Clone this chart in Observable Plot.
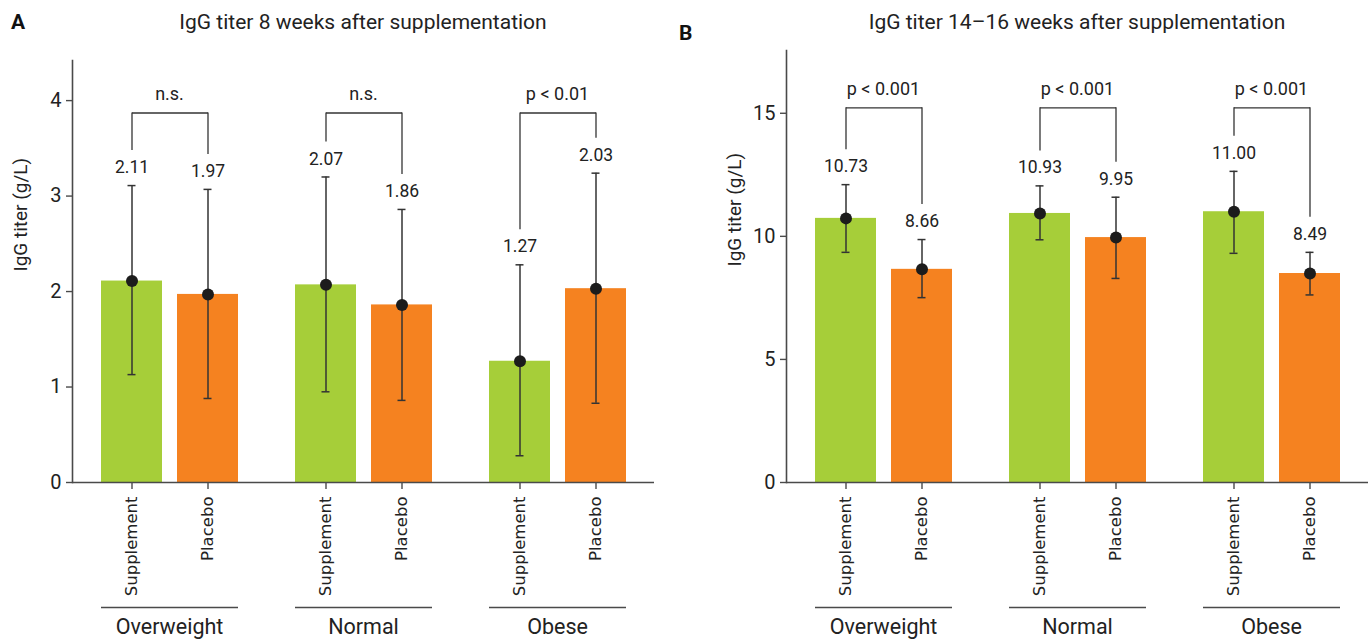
<!DOCTYPE html>
<html>
<head>
<meta charset="utf-8">
<script src="https://cdn.jsdelivr.net/npm/d3@7"></script>
<script src="https://cdn.jsdelivr.net/npm/@observablehq/plot@0.6"></script>
<style>
  html, body { margin: 0; padding: 0; background: #fff; }
  #wrap { position: relative; width: 1368px; height: 639px; overflow: hidden; font-family: Roboto, sans-serif; color: #222; }
  .panel { position: absolute; top: 40px; }
  .title { position: absolute; top: 9px; text-align: center; font-size: 21px; line-height: 26px; color: #222; }
  .letter { position: absolute; font-weight: 700; font-size: 21px; line-height: 24px; color: #111; }
</style>
</head>
<body>
<div id="wrap">
  <div class="letter" style="left:11px; top:10px;">A</div>
  <div class="letter" style="left:679px; top:21px;">B</div>
  <div class="title" style="left:72px; width:582px;">IgG titer 8 weeks after supplementation</div>
  <div class="title" style="left:786px; width:582px;">IgG titer 14–16 weeks after supplementation</div>
  <div id="panelA" class="panel" style="left:0px;"></div>
  <div id="panelB" class="panel" style="left:684px;"></div>
</div>
<script>
// ---- shared categories ----
const groups = ["Overweight", "Normal", "Obese"];
const treatments = ["Supplement", "Placebo"];
const barColors = ["#a6ce39", "#f58220"];
const yLabel = "IgG titer (g/L)";

// ---- Panel A: 8 weeks ----
const meanA = [2.11, 1.97, 2.07, 1.86, 1.27, 2.03];
const lowA  = [1.13, 0.88, 0.95, 0.86, 0.28, 0.83];
const highA = [3.11, 3.07, 3.20, 2.86, 2.28, 3.24];
const sigA = ["n.s.", "n.s.", "p < 0.01"];
const bracketA = 3.87;
const ticksA = [0, 1, 2, 3, 4];
const yMaxA = 4.42;

// ---- Panel B: 14–16 weeks ----
const meanB = [10.73, 8.66, 10.93, 9.95, 11.00, 8.49];
const lowB  = [9.35, 7.51, 9.86, 8.29, 9.31, 7.62];
const highB = [12.10, 9.87, 12.05, 11.59, 12.64, 9.35];
const sigB = ["p < 0.001", "p < 0.001", "p < 0.001"];
const bracketB = 15.22;
const ticksB = [0, 5, 10, 15];
const yMaxB = 17.55;

const axisColor = "#4a4a4a";
const inkColor = "#333";

function makePanel({mean, low, high, sig, bracket, ticks, yMax, marginTop, marginLeft, marginRight}) {
  const rows = groups.flatMap((g, gi) => treatments.map((t, ti) => ({
    group: g, treatment: t,
    mean: mean[gi * 2 + ti], low: low[gi * 2 + ti], high: high[gi * 2 + ti],
    level: bracket
  })));
  const groupRows = groups.map((g, i) => ({group: g, sig: sig[i], level: bracket}));

  return Plot.plot({
    width: 684,
    height: 599,
    marginTop,
    marginBottom: 157,
    marginLeft,
    marginRight,
    fx: {domain: groups, padding: 0},
    x: {domain: treatments, paddingInner: 0.2, paddingOuter: 0.37},
    y: {domain: [0, yMax]},
    color: {domain: treatments, range: barColors},
    style: {fontFamily: "Roboto, sans-serif", fontSize: "18px", color: "#222", background: "#fff", overflow: "visible"},
    marks: [
      Plot.barY(rows, {fx: "group", x: "treatment", y: "mean", fill: "treatment"}),
      Plot.ruleY([0], {stroke: axisColor, strokeWidth: 1.6}),
      Plot.frame({anchor: "left", facetAnchor: "left", stroke: axisColor, strokeWidth: 1.6}),
      // error bars
      Plot.ruleX(rows, {fx: "group", x: "treatment", y1: "low", y2: "high", stroke: inkColor, strokeWidth: 1.5}),
      Plot.tickY(rows, {fx: "group", x: "treatment", y: "low", insetLeft: 26.5, insetRight: 26.5, stroke: inkColor, strokeWidth: 1.5}),
      Plot.tickY(rows, {fx: "group", x: "treatment", y: "high", insetLeft: 26.5, insetRight: 26.5, stroke: inkColor, strokeWidth: 1.5}),
      Plot.dot(rows, {fx: "group", x: "treatment", y: "mean", r: 6, fill: "#1c1c1c"}),
      // value labels
      Plot.text(rows, {fx: "group", x: "treatment", y: "high", text: d => d.mean.toFixed(2), dy: -18, fontSize: 17.5, fill: "#222"}),
      // significance brackets
      Plot.ruleX(rows, {fx: "group", x: "treatment", y1: "level", y2: "high", insetBottom: 35, stroke: inkColor, strokeWidth: 1.3}),
      Plot.link(groupRows, {fx: "group", x1: () => treatments[0], x2: () => treatments[1], y1: "level", y2: "level", stroke: inkColor, strokeWidth: 1.3}),
      Plot.text(groupRows, {fx: "group", y: "level", text: "sig", dy: -19, fontSize: 18, fill: "#222"}),
      // group underline
      Plot.ruleY(groupRows, {fx: "group", y: () => 0, x1: () => treatments[0], x2: () => treatments[1], dy: 125, stroke: axisColor, strokeWidth: 1.6}),
      // axes
      Plot.axisY({ticks, tickFormat: d => String(d), tickSize: 6, tickPadding: 5, fontSize: 20, label: null, stroke: axisColor, strokeWidth: 1.4}),
      Plot.axisX({tickRotate: -90, tickSize: 7, tickPadding: 7, fontSize: 16.5, fontFamily: "DejaVu Sans", label: null, stroke: axisColor, strokeWidth: 1.4}),
      Plot.axisFx({anchor: "bottom", tickSize: 0, tickPadding: 136, fontSize: 21.5, label: null}),
      Plot.text([{group: groups[0]}], {fx: "group", text: () => yLabel, frameAnchor: "left", rotate: -90, dx: -52, fontSize: 19, fill: "#222"})
    ]
  });
}

const plotA = makePanel({mean: meanA, low: lowA, high: highA, sig: sigA, bracket: bracketA, ticks: ticksA, yMax: yMaxA, marginTop: 20, marginLeft: 72, marginRight: 30});
const plotB = makePanel({mean: meanB, low: lowB, high: highB, sig: sigB, bracket: bracketB, ticks: ticksB, yMax: yMaxB, marginTop: 10, marginLeft: 102, marginRight: 0});
document.getElementById("panelA").appendChild(plotA);
document.getElementById("panelB").appendChild(plotB);
</script>
</body>
</html>
